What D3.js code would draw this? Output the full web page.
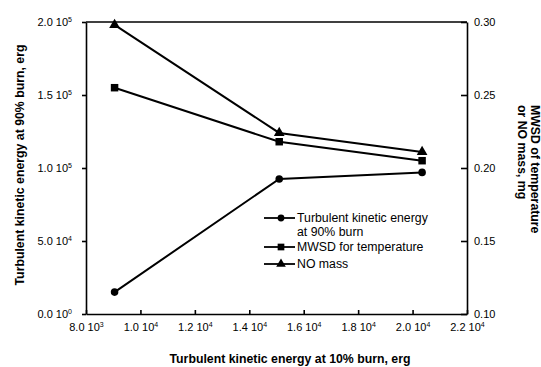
<!DOCTYPE html>
<html>
<head>
<meta charset="utf-8">
<script src="https://cdn.jsdelivr.net/npm/d3@7"></script>
<style>
  body { margin: 0; background: #fff; }
  svg { font-family: "Liberation Sans", Arial, sans-serif; }
</style>
</head>
<body>
<svg id="chart" width="541" height="367"></svg>
<script>
// values
var tke10 = [9050, 15100, 20350];          // x: turbulent kinetic energy at 10% burn
var tke90 = [15000, 92500, 97000];         // left axis
var mwsdTemp = [0.255, 0.218, 0.205];      // right axis
var noMass = [0.298, 0.224, 0.211];        // right axis
var xTicks = [8000, 10000, 12000, 14000, 16000, 18000, 20000, 22000];
var yLeftTicks = [0, 50000, 100000, 150000, 200000];
var yRightTicks = [0.10, 0.15, 0.20, 0.25, 0.30];
var legendNames = [["Turbulent kinetic energy", "at 90% burn"], ["MWSD for temperature"], ["NO mass"]];

var plotL = 86, plotR = 467, plotT = 22, plotB = 314;
var svg = d3.select("#chart");

var x = d3.scaleLinear().domain([8000, 22000]).range([plotL, plotR]);
var yL = d3.scaleLinear().domain([0, 200000]).range([plotB, plotT]);
var yR = d3.scaleLinear().domain([0.1, 0.3]).range([plotB, plotT]);

// "2.0 10^5" style labels
function sciLabel(sel) {
  sel.each(function(d) {
    var e = d === 0 ? 0 : Math.floor(Math.log10(d));
    var m = d / Math.pow(10, e);
    var t = d3.select(this).text(null);
    t.append("tspan").text(m.toFixed(1) + " 10");
    t.append("tspan").attr("dy", "-0.6em").attr("font-size", "7px").text(e);
  });
}

var xAxis = svg.append("g")
  .attr("transform", "translate(0," + plotB + ")")
  .call(d3.axisBottom(x).tickValues(xTicks).tickSizeInner(-4).tickSizeOuter(0).tickPadding(9));
xAxis.selectAll("text").call(sciLabel);

var yAxisL = svg.append("g")
  .attr("transform", "translate(" + plotL + ",0)")
  .call(d3.axisLeft(yL).tickValues(yLeftTicks).tickSizeInner(4).tickSizeOuter(0).tickPadding(10));
yAxisL.selectAll("text").call(sciLabel);

var yAxisR = svg.append("g")
  .attr("transform", "translate(" + plotR + ",0)")
  .call(d3.axisRight(yR).tickValues(yRightTicks).tickSizeInner(-6).tickSizeOuter(0).tickPadding(7)
    .tickFormat(d3.format(".2f")));

svg.selectAll(".tick text").attr("font-size", "11px").attr("fill", "#000")
  .attr("font-family", "Liberation Sans, Arial, sans-serif");
svg.selectAll(".domain, .tick line").attr("stroke", "#000").attr("stroke-width", 1.6);

// top border of the frame
svg.append("line")
  .attr("x1", plotL).attr("x2", plotR).attr("y1", plotT).attr("y2", plotT)
  .attr("stroke", "#000").attr("stroke-width", 1.6);

// axis titles
svg.append("text")
  .attr("x", 290).attr("y", 363)
  .attr("text-anchor", "middle").attr("font-size", "12.3px").attr("font-weight", "bold")
  .text("Turbulent kinetic energy at 10% burn, erg");

svg.append("text")
  .attr("transform", "translate(24,165) rotate(-90)")
  .attr("text-anchor", "middle").attr("font-size", "12.3px").attr("font-weight", "bold")
  .text("Turbulent kinetic energy at 90% burn, erg");

var rt = svg.append("text")
  .attr("transform", "translate(531,105) rotate(90)")
  .attr("font-size", "12.3px").attr("font-weight", "bold");
rt.append("tspan").attr("x", 0).attr("y", 0).text("MWSD of temperature");
rt.append("tspan").attr("x", 0).attr("y", 13).text("or NO mass, mg");

// series
var series = [
  { vals: tke90, y: yL, sym: d3.symbolCircle, size: 45 },
  { vals: mwsdTemp, y: yR, sym: d3.symbolSquare, size: 56 },
  { vals: noMass, y: yR, sym: d3.symbolTriangle, size: 50 }
];

series.forEach(function(s) {
  var pts = s.vals.map(function(v, i) { return [x(tke10[i]), s.y(v)]; });
  svg.append("path")
    .attr("d", d3.line()(pts))
    .attr("fill", "none").attr("stroke", "#000").attr("stroke-width", 2);
  svg.selectAll(null).data(pts).enter().append("path")
    .attr("transform", function(p) { return "translate(" + p[0] + "," + p[1] + ")"; })
    .attr("d", d3.symbol().type(s.sym).size(s.size))
    .attr("fill", "#000");
});

// legend
var legY = [218, 247, 264];
series.forEach(function(s, i) {
  var g = svg.append("g").attr("transform", "translate(264," + legY[i] + ")");
  g.append("line").attr("x1", 0).attr("x2", 31).attr("stroke", "#000").attr("stroke-width", 1.8);
  g.append("path").attr("transform", "translate(17,0)")
    .attr("d", d3.symbol().type(s.sym).size(s.size * 0.8)).attr("fill", "#000");
  legendNames[i].forEach(function(line, j) {
    g.append("text").attr("x", 33).attr("y", 4 + j * 14)
      .attr("font-size", "12.3px").text(line);
  });
});
</script>
</body>
</html>
